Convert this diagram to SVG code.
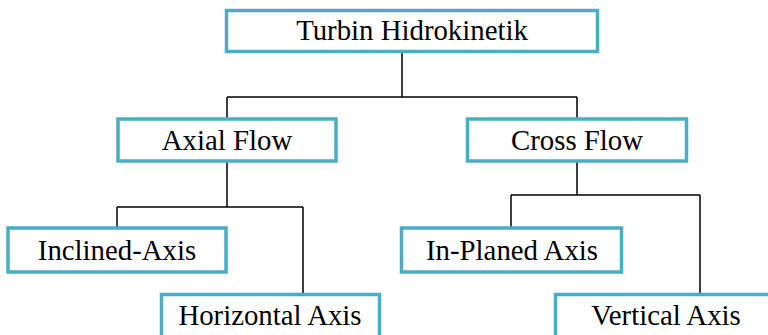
<svg xmlns="http://www.w3.org/2000/svg" width="768" height="335" viewBox="0 0 768 335">
<style>
.box{fill:#fff;stroke:#4bacc6;stroke-width:3.5}
.lbl{font-family:"Liberation Serif","Times New Roman",serif;font-size:28.8px;fill:#000;text-anchor:middle}
.con{fill:none;stroke:#000;stroke-width:1.5}
</style>
<rect width="768" height="335" fill="#fff"/>
<g id="connectors">
<path class="con" d="M402 52V97M227 97H577M227 97V119M577 97V118"/>
<path class="con" d="M227 162V207M117 207H303M117 207V228M303 207V294"/>
<path class="con" d="M577 162V195M511 195H700M511 195V228M700 195V294"/>
</g>
<g id="n-turbin"><rect class="box" x="226.5" y="10.5" width="371" height="41"/><text class="lbl" x="412" y="40">Turbin Hidrokinetik</text></g>
<g id="n-axial"><rect class="box" x="118" y="119" width="218" height="42"/><text class="lbl" x="227" y="150">Axial Flow</text></g>
<g id="n-cross"><rect class="box" x="467.5" y="119" width="219" height="42"/><text class="lbl" x="577" y="150">Cross Flow</text></g>
<g id="n-inclined"><rect class="box" x="8" y="228" width="218" height="44"/><text class="lbl" x="117" y="260">Inclined-Axis</text></g>
<g id="n-inplaned"><rect class="box" x="401.5" y="228" width="220" height="44"/><text class="lbl" x="512" y="260">In-Planed Axis</text></g>
<g id="n-horizontal"><rect class="box" x="161.5" y="294.5" width="218" height="50"/><text class="lbl" x="270" y="325">Horizontal Axis</text></g>
<g id="n-vertical"><rect class="box" x="555.5" y="294.5" width="222" height="50"/><text class="lbl" x="666" y="325">Vertical Axis</text></g>
</svg>
